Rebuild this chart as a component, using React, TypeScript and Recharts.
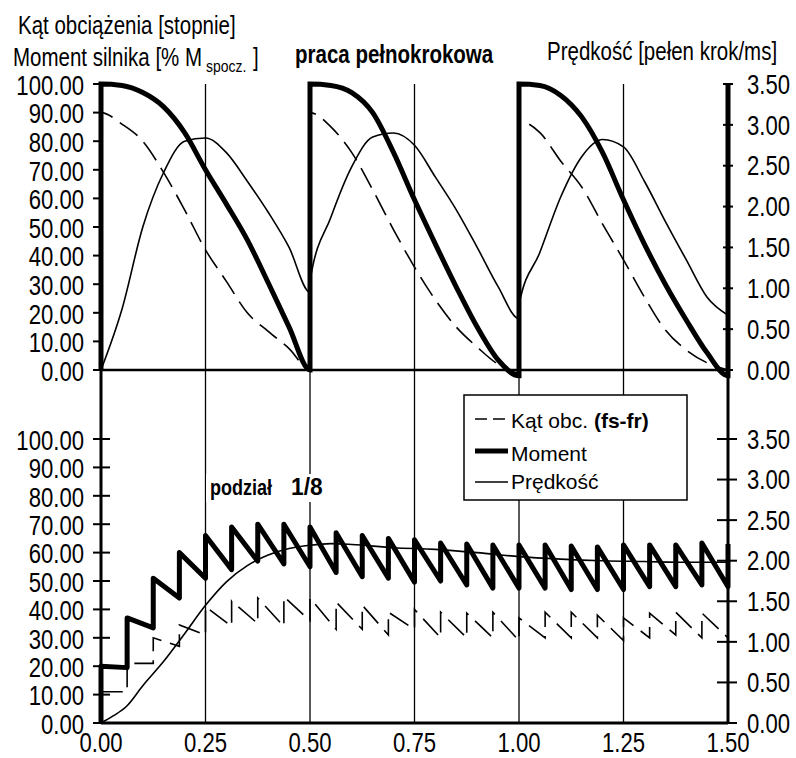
import React from 'react';
import { ComposedChart, Line, XAxis, YAxis, CartesianGrid, ReferenceLine } from 'recharts';

const SANS = "'Liberation Sans', Arial, sans-serif";

// time axis [ms]
const xTicks = [0, 0.25, 0.5, 0.75, 1.0, 1.25, 1.5];
const gridX = [0.25, 0.5, 0.75, 1.0, 1.25];
const leftTicks = [0, 10, 20, 30, 40, 50, 60, 70, 80, 90, 100];
const rightTicks = [0, 0.5, 1.0, 1.5, 2.0, 2.5, 3.0, 3.5];

// --- praca pełnokrokowa (3 full steps, 0.5 ms each, sampled every 0.05) ---
const stepOffsets = [0, 0.05, 0.1, 0.15, 0.2, 0.25, 0.3, 0.35, 0.4, 0.45, 0.5];
const fullMoment = [
  [100, 99.5, 97, 92, 83, 70, 58, 45.5, 30.5, 15, 0],
  [100, 99.5, 97, 90, 76, 59.5, 44, 29, 15, 3.5, -2],
  [100, 99.5, 96, 88.5, 76, 59.5, 44, 30, 17.5, 6, -2],
];
const fullAngle = [
  [90, 86, 80, 69, 56, 42, 31, 20, 13.5, 7.5, 0],
  [90, 85, 76, 63, 49, 36, 24.5, 15, 8, 2, -1],
  [87, 83, 73, 64, 51, 38.5, 25.5, 14, 7, 2.5, 0],
];
const fullSpeed = [
  [0, 0.74, 1.75, 2.42, 2.8, 2.84, 2.66, 2.31, 1.93, 1.5, 0.95],
  [1.09, 1.87, 2.49, 2.85, 2.9, 2.75, 2.36, 1.96, 1.5, 1.02, 0.63],
  [0.8, 1.44, 2.12, 2.61, 2.82, 2.73, 2.31, 1.82, 1.35, 0.89, 0.67],
];

// --- podział 1/8 (24 microsteps of 0.0625 ms) ---
const microStep = 0.0625;
const microMomentPeak = [20, 37, 51, 60, 66, 69, 70, 70, 69, 67, 66, 65, 64.5, 63.4, 63, 62.7, 62.7, 62.7, 62.3, 62, 62.7, 62.7, 62.7, 63.4];
const microMomentLow = [19.5, 33.5, 44, 51, 54, 57, 56, 55, 53, 51.5, 51, 49.6, 50, 48.6, 47.5, 47.5, 47.5, 47, 47, 47, 48, 48, 48.6, 48];
const microMomentEnd = 63;
const microAnglePeak = [11, 21, 30, 34.5, 41, 43, 44, 44.5, 44, 42.6, 41.5, 39, 40, 39, 38.7, 39, 37, 39, 39, 38, 37, 38.7, 39, 38.7];
const microAngleLow = [11, 21, 27, 31, 34, 35, 34, 36, 33, 33, 31, 33, 30, 30, 30, 29, 30, 30, 30, 29, 30, 31, 30, 30];
const microSpeedX = [0, 0.03, 0.06, 0.1, 0.15, 0.2, 0.25, 0.3, 0.35, 0.4, 0.45, 0.5, 0.55, 0.6, 0.7, 0.8, 0.9, 1.0, 1.1, 1.2, 1.3, 1.4, 1.5];
const microSpeedY = [0, 0.09, 0.2, 0.46, 0.76, 1.1, 1.45, 1.74, 1.94, 2.07, 2.15, 2.19, 2.21, 2.2, 2.16, 2.14, 2.1, 2.05, 2.02, 2.0, 1.99, 1.98, 1.98];

type Pt = { x: number; y: number };

function fullSeries(periods: number[][], lead?: number, tail?: number): Pt[] {
  const pts: Pt[] = [];
  if (lead !== undefined) pts.push({ x: 0, y: lead });
  periods.forEach((vals, p) => vals.forEach((v, i) => pts.push({ x: p * 0.5 + stepOffsets[i], y: v })));
  if (tail !== undefined) pts.push({ x: 1.5, y: tail });
  return pts;
}

function sawSeries(peaks: number[], lows: number[], tail?: number): Pt[] {
  const pts: Pt[] = [{ x: 0, y: 0 }];
  peaks.forEach((pk, k) => {
    pts.push({ x: k * microStep, y: pk });
    pts.push({ x: (k + 1) * microStep, y: lows[k] });
  });
  if (tail !== undefined) pts.push({ x: 1.5, y: tail });
  return pts;
}

const topMoment = fullSeries(fullMoment, 0, 100);
const topAngle = fullSeries(fullAngle, 0);
const topSpeed = fullSeries(fullSpeed);
const botMoment = sawSeries(microMomentPeak, microMomentLow, microMomentEnd);
const botAngle = sawSeries(microAnglePeak, microAngleLow);
const botSpeed = microSpeedX.map((x, i) => ({ x, y: microSpeedY[i] }));

// condensed text (no narrow font installed, so squeeze Liberation Sans)
const NText = ({ x, y, size, anchor = 'start', weight = 'normal', sx = 0.82, dy, children }: any) => (
  <text
    transform={`translate(${x} ${y}) scale(${sx} 1)`}
    dy={dy}
    textAnchor={anchor}
    fontFamily={SANS}
    fontSize={size}
    fontWeight={weight}
    fill="#000"
  >
    {children}
  </text>
);

const LeftTick = (cross: boolean) => (props: any) => {
  const { y, payload } = props;
  return (
    <g>
      <line x1={93} x2={cross ? 110 : 101} y1={y} y2={y} stroke="#000" strokeWidth={2} />
      <NText x={84} y={y} dy="0.4em" size={27} anchor="end">
        {Number(payload.value).toFixed(2)}
      </NText>
    </g>
  );
};

const RightTick = (x1: number, x2: number) => (props: any) => {
  const { y, payload } = props;
  return (
    <g>
      <line x1={x1} x2={x2} y1={y} y2={y} stroke="#000" strokeWidth={2} />
      <NText x={747} y={y} dy="0.36em" size={27}>
        {Number(payload.value).toFixed(2)}
      </NText>
    </g>
  );
};

const BOT_TOP = 360;

const BottomTick = (props: any) => {
  const { x, payload } = props;
  return (
    <NText x={x} y={752 - BOT_TOP} size={27} anchor="middle">
      {Number(payload.value).toFixed(2)}
    </NText>
  );
};

const PX = 2.86; // px per left unit in the top panel

export default function App() {
  const topMarginTop = 84 - 3 * PX;
  const topPlotBottom = 370 + 3 * PX;
  return (
    <div style={{ position: 'absolute', left: 0, top: 0, width: 796, height: 758, background: '#fff', overflow: 'hidden' }}>
      {/* praca pełnokrokowa */}
      <div style={{ position: 'absolute', left: 0, top: 0 }}>
        <ComposedChart width={796} height={390} margin={{ top: topMarginTop, right: 0, bottom: 390 - topPlotBottom, left: 0 }}>
          <XAxis type="number" dataKey="x" domain={[0, 1.5]} ticks={xTicks} hide />
          <YAxis type="number" domain={[-3, 103]} ticks={leftTicks} width={101} axisLine={false} tickLine={false} tick={LeftTick(false)} />
          <YAxis yAxisId="right" orientation="right" type="number" domain={[-0.105, 3.605]} ticks={rightTicks} width={68} axisLine={false} tickLine={false} tick={RightTick(723, 733)} />
          {gridX.map((g) => (
            <ReferenceLine key={g} segment={[{ x: g, y: 0 }, { x: g, y: 100 }]} stroke="#000" strokeWidth={1.3} />
          ))}
          <ReferenceLine y={0} stroke="#000" strokeWidth={2.5} />
          <Line data={topSpeed} yAxisId="right" dataKey="y" type="monotone" stroke="#000" strokeWidth={1.6} dot={false} isAnimationActive={false} />
          <Line data={topAngle} dataKey="y" type="monotone" stroke="#000" strokeWidth={1.6} strokeDasharray="22 9" dot={false} isAnimationActive={false} />
          <Line data={topMoment} dataKey="y" type="monotone" stroke="#000" strokeWidth={5} dot={false} isAnimationActive={false} />
        </ComposedChart>
      </div>

      {/* podział 1/8 */}
      <div style={{ position: 'absolute', left: 0, top: BOT_TOP }}>
        <ComposedChart width={796} height={410} margin={{ top: 10, right: 0, bottom: 17, left: 0 }}>
          <CartesianGrid horizontal={false} stroke="#000" strokeWidth={1.3} />
          <XAxis type="number" dataKey="x" domain={[0, 1.5]} ticks={xTicks} height={30} axisLine={{ stroke: '#000', strokeWidth: 3 }} tickLine={false} tick={BottomTick} />
          <YAxis type="number" domain={[0, 124.3]} ticks={leftTicks} width={101} axisLine={{ stroke: '#000', strokeWidth: 3 }} tickLine={false} tick={LeftTick(true)} />
          <YAxis yAxisId="right" orientation="right" type="number" domain={[0, 4.35]} ticks={rightTicks} width={68} axisLine={{ stroke: '#000', strokeWidth: 3 }} tickLine={false} tick={RightTick(717, 737)} />
          <Line data={botSpeed} yAxisId="right" dataKey="y" type="monotone" stroke="#000" strokeWidth={1.6} dot={false} isAnimationActive={false} />
          <Line data={botAngle} dataKey="y" type="linear" stroke="#000" strokeWidth={1.6} strokeDasharray="22 9" dot={false} isAnimationActive={false} />
          <Line data={botMoment} dataKey="y" type="linear" stroke="#000" strokeWidth={5} strokeLinejoin="round" dot={false} isAnimationActive={false} />
        </ComposedChart>
      </div>

      {/* titles and legend */}
      <svg width={796} height={758} style={{ position: 'absolute', left: 0, top: 0, pointerEvents: 'none' }}>
        <NText x={18} y={34} size={25}>Kąt obciążenia [stopnie]</NText>
        <NText x={13} y={66} size={25}>Moment silnika [% M</NText>
        <NText x={206} y={72} size={17}>spocz.</NText>
        <NText x={253} y={66} size={25}>]</NText>
        <NText x={295} y={63} size={25} weight="bold">praca pełnokrokowa</NText>
        <NText x={547} y={60} size={25}>Prędkość [pełen krok/ms]</NText>
        <rect x={206} y={474} width={128} height={28} fill="#fff" />
        <NText x={210} y={495} size={22} weight="bold">podział</NText>
        <NText x={291} y={495} size={24} weight="bold" sx={0.95}>1/8</NText>

        <rect x={464} y={395} width={223} height={105} fill="#fff" stroke="#000" strokeWidth={1.5} />
        <line x1={475} x2={508} y1={419} y2={419} stroke="#000" strokeWidth={1.6} strokeDasharray="12 6" />
        <line x1={475} x2={508} y1={451} y2={451} stroke="#000" strokeWidth={5} />
        <line x1={475} x2={508} y1={482} y2={482} stroke="#000" strokeWidth={1.6} />
        <g fontFamily={SANS} fontSize={21} fill="#000">
          <text x={511} y={428}>
            Kąt obc. <tspan fontWeight="bold">(fs-fr)</tspan>
          </text>
          <text x={511} y={461}>Moment</text>
          <text x={511} y={489}>Prędkość</text>
        </g>
      </svg>
    </div>
  );
}
